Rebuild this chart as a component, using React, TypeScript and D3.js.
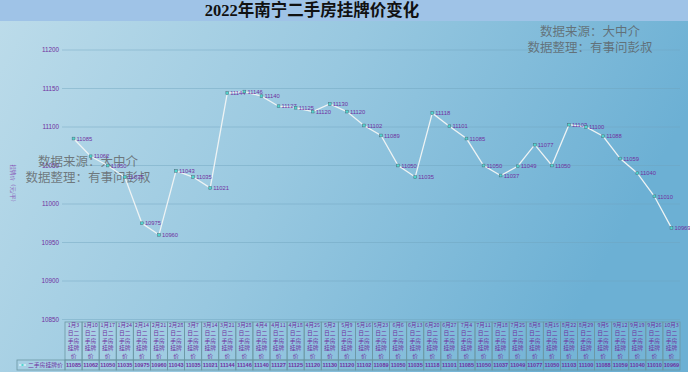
import { useEffect } from "react";
import * as d3 from "d3";

const dates = [
  "1月3", "1月10", "1月17", "1月24", "2月14", "2月21", "2月28", "3月7", "3月14",
  "3月21", "3月28", "4月4", "4月11", "4月18", "4月25", "5月2", "5月9", "5月16",
  "5月23", "6月6", "6月13", "6月20", "6月27", "7月4", "7月11", "7月18", "7月25",
  "8月8", "8月15", "8月22", "8月29", "9月5", "9月12", "9月19", "9月26", "10月3",
];
const prices = [
  11085, 11062, 11050, 11035, 10975, 10960, 11043, 11035, 11021,
  11144, 11146, 11140, 11127, 11125, 11120, 11130, 11120, 11102,
  11089, 11050, 11035, 11118, 11101, 11085, 11050, 11037, 11049,
  11077, 11050, 11103, 11100, 11088, 11059, 11040, 11010, 10969,
];
const yTicks = [10850, 10900, 10950, 11000, 11050, 11100, 11150, 11200];
const seriesName = "二手房挂牌价";
const title = "2022年南宁二手房挂牌价变化";
const yTitle = "挂牌价（元/平）";
const notes = ["数据来源：大中介", "数据整理：有事问彭叔"];

const W = 690;
const H = 375;
const plot = { left: 65, right: 680, top: 50, bottom: 319.5 };
const purple = "#7030a0";
const cjk = "'Noto Sans CJK SC', sans-serif";
const serif = "'Liberation Serif', 'Noto Sans CJK SC', serif";
const num = "'Liberation Sans', Arial, sans-serif";

// header text wraps like Excel: date, then two chars per line
function headerLines(d: string) {
  const rest = "日" + seriesName;
  const out = [d];
  for (let i = 0; i < rest.length; i += 2) out.push(rest.slice(i, i + 2));
  return out;
}

export default function App() {
  useEffect(() => {
    document.body.style.margin = "0";
  }, []);

  const x = d3.scaleBand<string>().domain(dates).range([plot.left, plot.right]);
  const y = d3.scaleLinear().domain([10850, 11200]).range([plot.bottom, plot.top]);
  const cx = (d: string) => (x(d) ?? 0) + x.bandwidth() / 2;

  const line = d3
    .line<number>()
    .x((_, i) => cx(dates[i]))
    .y((v) => y(v));

  const headTop = 322;
  const rowTop = 360;
  const rowBottom = 370;
  const border = "#6b97a3";

  return (
    <svg width={W} height={H} style={{ display: "block" }}>
      <defs>
        <linearGradient id="bg" x1="0" y1="0" x2="1" y2="0.3">
          <stop offset="0" stopColor="#bddcea" />
          <stop offset="0.5" stopColor="#98c8e0" />
          <stop offset="1" stopColor="#6cb0d4" />
        </linearGradient>
      </defs>
      <rect x={0} y={0} width={W} height={H} fill="#ffffff" />
      <rect x={0} y={0} width={688} height={372} fill="url(#bg)" />
      <rect x={0} y={0} width={688} height={21} fill="#9fc3e7" />
      <text
        x={312}
        y={16}
        textAnchor="middle"
        fontFamily={serif}
        fontWeight="bold"
        fontSize={16.5}
        fill="#111"
      >
        {title}
      </text>

      {/* grid + y ticks */}
      {yTicks.map((t) => (
        <g key={t}>
          <line
            x1={62}
            x2={680}
            y1={y(t)}
            y2={y(t)}
            stroke="#6fa3bd"
            strokeOpacity={0.55}
            strokeWidth={0.8}
          />
          <text
            x={59}
            y={y(t) + 2.2}
            textAnchor="end"
            fontFamily={num}
            fontSize={6.3}
            fill={purple}
          >
            {t}
          </text>
        </g>
      ))}
      <text
        transform={`translate(11,${(plot.top + plot.bottom) / 2}) rotate(90)`}
        textAnchor="middle"
        fontFamily={cjk}
        fontSize={5.5}
        fill="#8a58b8"
      >
        {yTitle}
      </text>

      {/* watermarks */}
      {[
        [590, 36],
        [88, 166],
      ].map(([wx, wy], k) => (
        <g key={k} fontFamily={serif} fontSize={12.5} fill="#5a5a5a" fillOpacity={0.75}>
          {notes.map((n, i) => (
            <text key={i} x={wx} y={wy + i * 16} textAnchor="middle">
              {n}
            </text>
          ))}
        </g>
      ))}

      {/* line */}
      <path d={line(prices) ?? ""} fill="none" stroke="#eef3f4" strokeWidth={1.3} />
      {prices.map((v, i) => (
        <g key={i}>
          <rect
            x={cx(dates[i]) - 1.4}
            y={y(v) - 1.4}
            width={2.8}
            height={2.8}
            fill="#4fd8d0"
            stroke="#4d6b78"
            strokeWidth={0.5}
          />
          <text
            x={cx(dates[i]) + 3}
            y={y(v) + 2.2}
            fontFamily={num}
            fontSize={5.8}
            fill={purple}
          >
            {v}
          </text>
        </g>
      ))}

      {/* data table */}
      {dates.map((d, i) => {
        const x0 = x(d) ?? 0;
        const w = x.bandwidth();
        return (
          <g key={d}>
            <rect
              x={x0}
              y={headTop}
              width={w}
              height={rowTop - headTop}
              fill="#ffffff"
              fillOpacity={0.06}
              stroke={border}
              strokeWidth={0.8}
            />
            {headerLines(d).map((s, j) => (
              <text
                key={j}
                x={x0 + w / 2}
                y={headTop + 5.3 + j * 7.6}
                textAnchor="middle"
                fontFamily={cjk}
                fontSize={j === 0 ? (d.length > 4 ? 4.8 : 5.4) : 5.8}
                fill={purple}
              >
                {s}
              </text>
            ))}
            <rect
              x={x0}
              y={rowTop}
              width={w}
              height={rowBottom - rowTop}
              fill="none"
              stroke={border}
              strokeWidth={0.8}
            />
            <text
              x={x0 + w / 2}
              y={rowTop + 7}
              textAnchor="middle"
              fontFamily={num}
              fontWeight="bold"
              fontSize={5.5}
              fill={purple}
            >
              {prices[i]}
            </text>
          </g>
        );
      })}
      <rect
        x={17}
        y={rowTop}
        width={plot.left - 17}
        height={rowBottom - rowTop}
        fill="none"
        stroke={border}
        strokeWidth={0.8}
      />
      <line x1={19} x2={26} y1={rowTop + 5} y2={rowTop + 5} stroke="#e6fbff" strokeWidth={1.2} />
      <rect x={21.5} y={rowTop + 4} width={2} height={2} fill="#4fd8d0" />
      <text x={28} y={rowTop + 7.2} fontFamily={cjk} fontSize={5.8} fill={purple}>
        {seriesName}
      </text>
    </svg>
  );
}
